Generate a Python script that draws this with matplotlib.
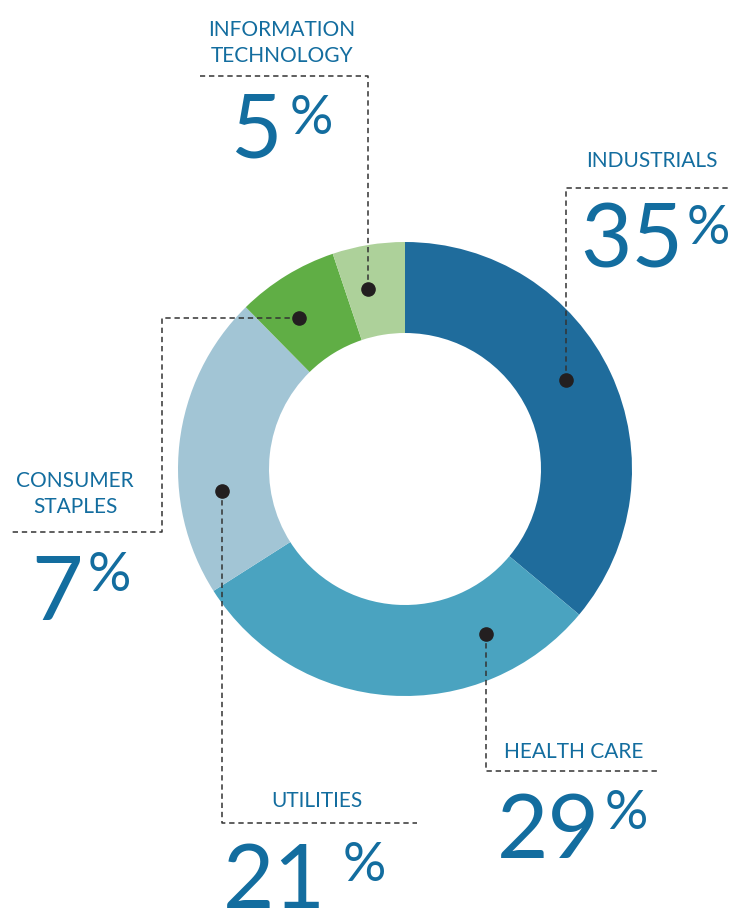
import matplotlib
matplotlib.use("Agg")
import matplotlib.pyplot as plt
import numpy as np

# ---- data ----
categories = ["INDUSTRIALS", "HEALTH CARE", "UTILITIES", "CONSUMER\nSTAPLES", "INFORMATION\nTECHNOLOGY"]
values = [35, 29, 21, 7, 5]
colors = ["#1f6c9c", "#4aa3c0", "#a2c5d5", "#60ae45", "#add19a"]
value_labels = ["35", "29", "21", "7", "5"]

W, H = 729, 909
TXT = "#136d9f"
FONT = "Lato"

fig = plt.figure(figsize=(W / 100, H / 100), dpi=100)
ax = fig.add_axes([0, 0, 1, 1])

def py(y):
    return H - y

cx, cy = 405, 469
R_out, R_in = 227, 136
ax.pie(values, colors=colors, radius=R_out, center=(cx, py(cy)), startangle=90,
       counterclock=False, wedgeprops=dict(width=R_out - R_in, linewidth=0))
ax.set_xlim(0, W)
ax.set_ylim(0, H)
ax.set_aspect("equal")
ax.axis("off")

# dot angle (deg) on ring, leader path (pixel coords, top-left origin)
dot_angles = [28.8, -63.8, 187.0, 125.0, 101.6]
r_dot = 184
leaders = [
    [(None, 188), (728, 188)],
    [(None, 771), (660, 771)],
    [(None, 823), (417, 823)],
    [(162, None), (162, 532), (10, 532)],
    [(None, 76), (200, 76)],
]
for ang, path in zip(dot_angles, leaders):
    a = np.deg2rad(ang)
    dx = cx + r_dot * np.cos(a)
    dy = cy - r_dot * np.sin(a)
    pts = [(dx, dy)]
    for (px_, py_) in path:
        lx, ly = pts[-1]
        pts.append((lx if px_ is None else px_, ly if py_ is None else py_))
    xs = [p[0] for p in pts]
    ys = [py(p[1]) for p in pts]
    ax.plot(xs, ys, color="#333333", lw=1.1, dashes=(3.5, 2.5), zorder=3)
    ax.plot([dx], [py(dy)], "o", color="#231f20", ms=9.5, zorder=4)

# labels: (center x, baselines of lines)
label_pos = [
    (652, [167]),
    (574, [758]),
    (317, [807]),
    (75, [487, 513]),
    (282, [36, 62]),
]
for name, (x, bases) in zip(categories, label_pos):
    for line, b in zip(name.split("\n"), bases):
        ax.text(x, py(b), line, ha="center", va="baseline", color=TXT,
                fontsize=15, family=FONT)

# numbers: (right edge of digits, baseline), (% left, % baseline)
num_pos = [
    ((683, 267), (687, 244)),
    ((600, 858), (605, 829)),
    ((326, 908), (343, 881)),
    ((83, 620), (88, 591)),
    ((282, 158), (290, 134)),
]
for v, ((nx, nb), (qx, qb)) in zip(value_labels, num_pos):
    ax.text(nx, py(nb), v, ha="right", va="baseline", color=TXT,
            fontsize=64, family=FONT, fontweight="normal")
    ax.text(qx, py(qb), "%", ha="left", va="baseline", color=TXT,
            fontsize=39, family=FONT, fontweight="normal")

fig.savefig("out.png", dpi=100)
